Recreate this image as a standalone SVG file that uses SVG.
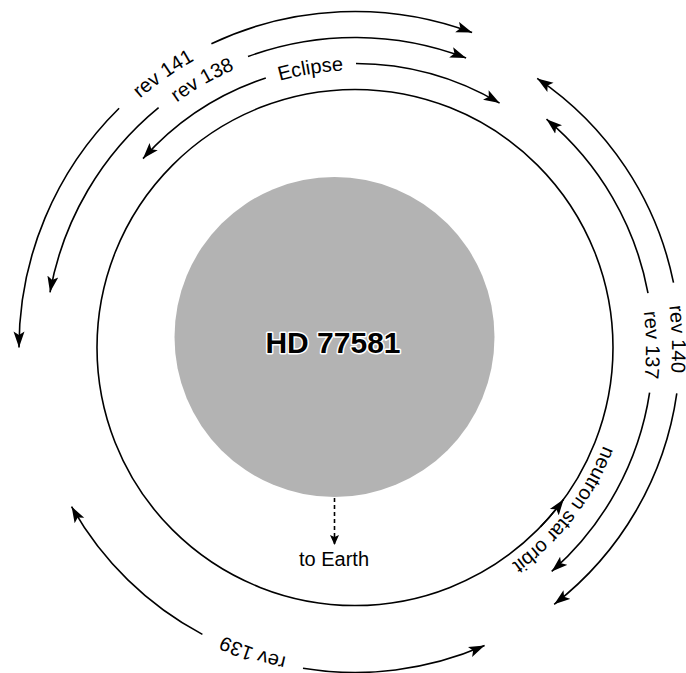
<svg xmlns="http://www.w3.org/2000/svg" width="686" height="673" viewBox="0 0 686 673">
  <style>
    .arc { fill: none; stroke: #000; stroke-width: 1.6; }
    .lbl { font-family: "Liberation Sans", Arial, sans-serif; font-size: 20px; fill: #000; }
    .star { font-family: "Liberation Sans", Arial, sans-serif; font-size: 30px; font-weight: bold; fill: #000; stroke: #fff; stroke-width: 3; paint-order: stroke; stroke-linejoin: round; }
  </style>
  <defs>
    <marker id="ah" markerUnits="userSpaceOnUse" markerWidth="18" markerHeight="12" refX="16" refY="6" orient="auto">
      <path d="M0,0.5 L16,6 L0,11.5 L3.5,6 z" fill="#000"/>
    </marker>
    <marker id="ahs" markerUnits="userSpaceOnUse" markerWidth="12" markerHeight="10" refX="10" refY="5" orient="auto">
      <path d="M0,0.5 L10,5 L0,9.5 L2,5 z" fill="#000"/>
    </marker>
    <path id="p141" d="M 27.3,318.8 A 329 329 0 0 1 440.2,29.7"/>
    <path id="p138" d="M 56.9,293.3 A 303 303 0 0 1 460.1,63.3"/>
    <path id="pecl" d="M 117.3,205.3 A 277 277 0 0 1 536.4,138.1"/>
    <path id="p140" d="M 552.3,99.4 A 317 317 0 0 1 565.0,584.9"/>
    <path id="p137" d="M 540.1,123.0 A 291 291 0 0 1 544.0,568.8"/>
    <path id="p139" d="M 520.6,617.8 A 317 317 0 0 1 60.1,463.7"/>
    <path id="pnso" d="M 616.0,291.1 A 267 267 0 0 1 365.3,614.3"/>
  </defs>
  <rect width="686" height="673" fill="#fff"/>

  <g id="star">
    <circle cx="334.5" cy="337" r="160" fill="#b3b3b3"/>
    <text class="star" x="333" y="353" text-anchor="middle">HD 77581</text>
  </g>

  <g id="orbit">
    <circle class="arc" cx="355" cy="347.5" r="258"/>
    <path class="arc" d="M 540.6,526.7 A 258 258 0 0 0 563.7,499.2" marker-end="url(#ah)"/>
    <text class="lbl"><textPath href="#pnso" startOffset="50%" text-anchor="middle">neutron star orbit</textPath></text>
  </g>

  <g id="earth">
    <text class="lbl" x="334" y="566" text-anchor="middle">to Earth</text>
  </g>

  <g id="rev141">
    <text class="lbl"><textPath href="#p141" startOffset="50%" text-anchor="middle">rev 141</textPath></text>
  </g>
  <g id="rev138">
    <text class="lbl"><textPath href="#p138" startOffset="50%" text-anchor="middle">rev 138</textPath></text>
  </g>
  <g id="eclipse">
    <text class="lbl"><textPath href="#pecl" startOffset="50%" text-anchor="middle">Eclipse</textPath></text>
  </g>
  <g id="rev140">
    <text class="lbl"><textPath href="#p140" startOffset="50%" text-anchor="middle">rev 140</textPath></text>
  </g>
  <g id="rev137">
    <text class="lbl"><textPath href="#p137" startOffset="50%" text-anchor="middle">rev 137</textPath></text>
  </g>
  <g id="rev139">
    <text class="lbl"><textPath href="#p139" startOffset="50%" text-anchor="middle">rev 139</textPath></text>
  </g>

  <g id="connectors">
    <path class="arc" d="M 119.1,108.3 A 336 336 0 0 0 19,347.5" marker-end="url(#ah)"/>
    <path class="arc" d="M 211.4,43.7 A 336 336 0 0 1 472.1,32.6" marker-end="url(#ah)"/>
    <path class="arc" d="M 158.6,107.6 A 310 310 0 0 0 50.0,292.3" marker-end="url(#ah)"/>
    <path class="arc" d="M 248.0,56.6 A 310 310 0 0 1 466.1,58.1" marker-end="url(#ah)"/>
    <path class="arc" d="M 265.8,77.9 A 284 284 0 0 0 143.0,158.6" marker-end="url(#ah)"/>
    <path class="arc" d="M 356.0,63.5 A 284 284 0 0 1 499.6,103.1" marker-end="url(#ah)"/>
    <path class="arc" d="M 673.5,282.7 A 325 325 0 0 0 537.2,78.4" marker-end="url(#ah)"/>
    <path class="arc" d="M 676.8,393.3 A 325 325 0 0 1 554.2,604.3" marker-end="url(#ah)"/>
    <path class="arc" d="M 648.0,293.2 A 298 298 0 0 0 546.5,119.2" marker-end="url(#ah)"/>
    <path class="arc" d="M 649.6,392.6 A 298 298 0 0 1 551.7,571.4" marker-end="url(#ah)"/>
    <path class="arc" d="M 202.4,634.4 A 325 325 0 0 1 71.6,506.6" marker-end="url(#ah)"/>
    <path class="arc" d="M 303.0,668.3 A 325 325 0 0 0 484.6,645.6" marker-end="url(#ah)"/>
    <path d="M 334.5,498 L 334.5,545" fill="none" stroke="#000" stroke-width="1.6" stroke-dasharray="4,3" marker-end="url(#ahs)"/>
  </g>
</svg>
